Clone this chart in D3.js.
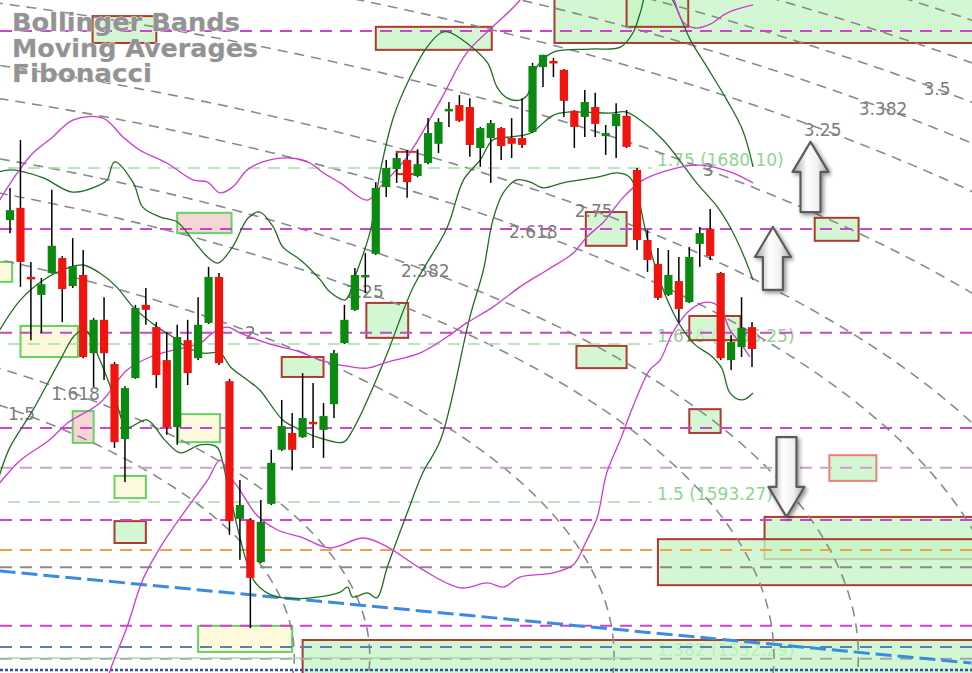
<!DOCTYPE html>
<html>
<head>
<meta charset="utf-8">
<script src="https://cdn.jsdelivr.net/npm/d3@7"></script>
<style>body{margin:0;background:#fff;}</style>
</head>
<body>
<script>
// ---- candles (bar index 0..71) ----
var opens  = [1666.6,1669.8,1651.8,1647.1,1652.8,1656.7,1649.4,1652.3,1631.9,1640.6,1629.1,1609.5,1625.4,1644.5,1638.7,1630.1,1612.6,1635.3,1630.6,1639.8,1651.8,1624.6,1588.7,1588.4,1577.4,1592.6,1606.7,1611.1,1610.0,1614.0,1611.9,1618.6,1634.5,1643.2,1651.8,1657.8,1675.2,1679.9,1682.3,1678.1,1681.5,1686.5,1695.1,1696.6,1696.1,1685.4,1688.0,1690.6,1688.0,1688.0,1689.6,1706.5,1708.1,1705.8,1695.1,1693.5,1696.1,1688.5,1691.1,1693.8,1679.7,1661.4,1655.2,1647.1,1650.7,1645.2,1660.4,1664.3,1652.8,1630.1,1633.5,1638.7];
var highs  = [1675.0,1687.5,1655.7,1651.5,1674.5,1657.2,1661.9,1658.8,1641.1,1646.5,1629.6,1623.3,1644.5,1648.9,1640.0,1637.4,1639.3,1640.6,1646.5,1654.4,1652.8,1625.2,1598.8,1588.9,1593.6,1606.7,1619.7,1616.3,1626.7,1624.1,1618.9,1632.7,1644.5,1654.1,1658.0,1676.5,1682.3,1684.1,1684.9,1685.1,1693.2,1693.2,1697.4,1699.2,1698.4,1690.9,1692.7,1690.9,1693.2,1698.4,1707.6,1709.7,1708.9,1706.0,1695.3,1700.5,1699.8,1691.4,1697.1,1695.3,1680.2,1664.0,1659.3,1658.8,1657.0,1659.6,1664.8,1669.5,1653.1,1636.6,1646.5,1640.0];
var lows   = [1663.2,1649.2,1635.3,1637.2,1652.6,1640.0,1648.9,1630.6,1623.1,1624.9,1607.2,1598.3,1625.2,1639.3,1622.8,1610.6,1608.0,1623.6,1630.1,1639.5,1628.8,1584.5,1578.0,1560.2,1577.2,1592.3,1606.4,1601.4,1609.8,1607.2,1604.6,1615.0,1634.3,1642.9,1647.6,1657.5,1672.6,1676.3,1672.4,1677.8,1681.2,1684.1,1690.9,1692.2,1683.1,1680.5,1676.3,1682.3,1682.8,1685.4,1689.3,1701.3,1703.9,1693.5,1685.4,1688.3,1688.3,1683.6,1682.8,1685.4,1658.8,1653.1,1645.8,1646.8,1639.8,1645.0,1654.4,1656.2,1630.1,1627.5,1630.9,1628.3];
var closes = [1669.2,1655.7,1651.2,1649.9,1659.9,1648.6,1654.6,1630.9,1640.6,1631.9,1608.7,1622.8,1643.7,1643.2,1626.2,1612.6,1636.1,1626.7,1639.3,1651.8,1629.3,1588.1,1592.3,1573.3,1587.9,1603.3,1612.9,1606.7,1615.0,1613.4,1615.5,1631.9,1640.6,1652.3,1652.3,1675.0,1680.2,1682.8,1676.5,1681.2,1689.3,1692.2,1695.6,1692.5,1686.2,1690.6,1691.9,1685.9,1686.5,1686.2,1706.8,1709.7,1707.6,1697.7,1690.9,1697.4,1691.7,1689.3,1694.3,1685.7,1661.4,1656.2,1646.3,1652.3,1643.4,1657.0,1663.2,1657.2,1630.6,1634.8,1638.5,1633.0];

// ---- Bollinger bands [bar, price] ----
var upperBand = [[-1,1679.2],[0,1679.7],[1,1679.4],[3.2,1677.6],[6,1673.9],[8.6,1675.8],[9.3,1677.1],[10,1681.8],[11.8,1676.3],[12.7,1670.0],[14.4,1667.4],[16,1666.1],[17.5,1661.4],[18.9,1657.0],[19.9,1655.4],[21.3,1659.6],[22.8,1667.2],[23.9,1668.7],[25.2,1664.8],[26.1,1659.6],[27.8,1656.2],[29.7,1651.0],[30.6,1647.9],[32.1,1645.8],[33,1651.8],[34.5,1664.0],[35.4,1678.9],[36.7,1693.5],[38.3,1703.9],[39.9,1711.7],[41.2,1715.4],[41.9,1715.7],[43.7,1712.8],[45.7,1707.6],[46.6,1701.3],[47.6,1698.4],[48.8,1697.9],[49.5,1699.2],[50.4,1706.5],[52,1710.4],[55.5,1711.2],[58.4,1711.7],[59.6,1715.4],[60.3,1720.6],[61.2,1727.9],[62.4,1727.9],[63.4,1724.0],[65.1,1713.6],[66.7,1706.5],[68.6,1697.9],[70.1,1690.1],[71.1,1680.5]];
var middleBand = [[-1,1637.9],[1,1645.8],[3.2,1651.0],[5.5,1654.1],[7,1654.9],[8.6,1652.8],[10.2,1649.2],[11.8,1643.9],[14.1,1638.7],[15.6,1636.1],[16.9,1633.5],[18.5,1631.9],[20.1,1631.9],[21.1,1628.3],[22.7,1624.9],[23.9,1622.3],[26.1,1614.5],[27.8,1611.9],[29.4,1610.0],[31.9,1608.7],[32.8,1611.9],[34.2,1619.7],[36.1,1631.9],[38.6,1649.2],[41.8,1664.5],[43.4,1677.1],[45,1682.3],[46.2,1687.5],[47.9,1688.3],[49.8,1689.3],[52,1694.0],[53.6,1694.8],[57.4,1694.5],[58.9,1694.8],[60.3,1692.7],[62.5,1687.5],[65.7,1676.3],[67.7,1670.0],[68.9,1664.8],[70.1,1658.0],[71.1,1651.0]];
var lowerBand = [[-1,1600.1],[0,1607.4],[2.2,1617.1],[4.8,1630.1],[6.2,1636.6],[7.2,1637.9],[8.6,1630.1],[10.1,1619.7],[11.2,1612.6],[13.1,1614.5],[14.8,1609.3],[16.3,1605.9],[18.2,1608.0],[19.8,1607.4],[20.3,1604.0],[20.8,1598.0],[23.3,1572.8],[24.6,1569.4],[26.1,1568.1],[29.4,1568.3],[31.6,1569.6],[32.3,1570.9],[32.8,1568.3],[34.2,1569.4],[35.1,1568.1],[36.1,1576.1],[38,1590.2],[39.5,1600.7],[41.2,1609.3],[44,1641.3],[45.3,1653.6],[46.2,1666.6],[47.2,1673.7],[48.5,1677.1],[49.8,1676.5],[51,1675.0],[52.9,1676.3],[56.2,1677.8],[58.1,1678.9],[59.3,1677.8],[60,1673.7],[60.8,1664.0],[61.7,1654.9],[62.7,1647.1],[64.1,1639.3],[65.6,1634.0],[67,1631.4],[68.1,1628.0],[68.9,1621.5],[70.1,1619.7],[71.1,1621.5]];

// ---- moving averages [bar, price] ----
var maFast = [[-1,1671.8],[0.7,1678.9],[2.2,1684.1],[4.1,1688.3],[6,1692.7],[8.9,1693.2],[10.8,1688.3],[12.4,1684.9],[15,1681.5],[17.5,1677.1],[18.9,1676.5],[20.1,1673.7],[21.3,1675.2],[22.7,1679.7],[24.2,1681.8],[26.8,1682.8],[28.7,1681.5],[30,1678.9],[31.6,1676.3],[34.2,1671.8],[35.4,1675.2],[38,1683.1],[41.2,1697.9],[43.7,1710.2],[46.2,1717.0],[48.8,1724.0],[51.2,1734.4],[56.5,1735.7],[61.2,1734.4],[63.2,1726.6],[64.4,1718.3],[65.6,1716.7],[67,1717.7],[68.6,1720.6],[71.1,1722.7]];
var maMid = [[-1,1598.0],[1,1604.0],[3.8,1609.3],[5.5,1613.7],[8.6,1618.9],[11.2,1627.5],[13.4,1630.9],[15.6,1632.7],[18.2,1634.5],[19.4,1637.2],[20.8,1638.7],[22,1637.2],[24.6,1634.5],[27.8,1632.2],[29.7,1630.1],[31.6,1628.8],[34.2,1628.0],[36.1,1629.6],[39.2,1631.9],[41.8,1636.1],[43.7,1639.8],[46.2,1643.9],[48.8,1649.2],[51.4,1653.6],[53.9,1658.0],[55.2,1662.2],[56.8,1666.1],[58.7,1672.6],[60.6,1677.1],[62.5,1679.2],[65.7,1681.0],[68.9,1679.2],[71.1,1676.3]];
var maSlow = [[9.1,1544.1],[9.6,1549.3],[11.2,1560.5],[12.7,1572.8],[14.4,1581.4],[16.6,1590.2],[18.9,1598.8],[20.1,1604.0],[21.1,1599.6],[22,1596.2],[23.6,1589.7],[25.6,1585.8],[27.8,1584.0],[30.6,1581.1],[33.8,1583.7],[36.1,1581.4],[39.2,1575.9],[43.1,1570.7],[45.7,1572.0],[47.2,1570.9],[48.8,1573.5],[52,1574.6],[53.9,1576.7],[55.2,1583.2],[56.2,1589.2],[57.1,1600.7],[58.4,1609.3],[59.6,1617.9],[61.2,1627.5],[62.2,1630.1],[63.4,1637.2],[65.1,1643.2],[66.7,1645.2],[67.9,1643.9],[68.9,1637.9],[69.9,1634.5],[70.8,1630.9]];

// ---- horizontal levels, trend line ----
var magentaLevels = [1715.9, 1664.3, 1637.2, 1612.4, 1588.4, 1560.8];
var otherLevels = [1602.0, 1580.6, 1576.1, 1555.3, 1552.2, 1549.3];
var otherColors = ["#c9a3c9", "#f0a14a", "#8a8a8a", "#5b7fb5", "#a2aaa2", "#2f4f9f"];
var trendLine = [[-1, 1575.1], [92, 1551.1]];

// ---- fibonacci ----
var fibValues = [1680.2, 1634.3, 1593.1, 1552.4];
var fibTexts = ["1.75 (1680.10)", "1.618 (1636.25)", "1.5 (1593.27)", "1.382 (1552.29)"];
var arcRatios = [1.5, 1.618, 2, 2.25, 2.382, 2.618, 2.75, 3, 3.25, 3.382, 3.5, 3.618, 3.75, 4];
var arcLabels = ["1.5", "1.618", "2", "2.25", "2.382", "2.618", "2.75", "3", "3.25", "3.382", "3.5"];
var arcCenter = [-64.6, 1552.9];
var arcUnit = [61.2, 60.5];

// ---- zones [bar0, bar1, top, bottom, kind] ----
var zones = [
  [7.9,14.0,1719.8,1712.8,"g"],[35.0,46.1,1717.0,1711.0,"g"],[52.1,93,1725.3,1712.8,"g"],[59.0,64.9,1725.3,1717.0,"g"],
  [16.0,21.2,1668.5,1663.2,"p"],[-1.5,0.2,1655.7,1650.5,"y"],[1.0,6.5,1639.0,1630.9,"y"],[6.0,8.0,1616.8,1608.5,"p"],
  [16.1,20.1,1616.0,1608.7,"y"],[10.0,13.0,1599.9,1594.1,"y"],[10.0,13.0,1588.1,1582.4,"g"],[18.0,27.0,1560.8,1554.0,"y"],
  [28.0,93,1557.1,1544.1,"g"],[26.0,30.0,1630.9,1625.7,"g"],[34.1,38.1,1645.0,1635.9,"g"],[54.2,59.0,1633.8,1628.0,"g"],
  [55.1,59.0,1668.7,1659.9,"g"],[65.0,69.9,1641.6,1635.3,"g"],[65.0,68.0,1617.3,1611.1,"g"],[77.0,81.2,1667.2,1661.2,"g"],
  [78.4,82.9,1605.3,1598.6,"s"],[72.2,93,1589.2,1578.2,"g"],[62.0,93,1583.4,1571.4,"g"],[37.0,39.0,1684.4,1678.6,"o"]
];
// ---- arrows [bar, tip price, tail price] ----
var arrows = [[76.6,1687.0,1668.7],[73.0,1664.8,1648.4],[74.3,1589.2,1610.0]];
var titleLines = ["Bollinger Bands", "Moving Averages", "Fibonacci"];

var W = 972, H = 673;
var svg = d3.select("body").append("svg")
    .attr("width", W).attr("height", H)
    .style("display", "block");

var x = d3.scaleLinear().domain([0, 71]).range([10, 752]);
var y = d3.scaleLinear().domain([1724, 1548.5]).range([0, 673]);

var defs = svg.append("defs");
var grad = defs.append("linearGradient").attr("id", "arrowFill");
grad.append("stop").attr("offset", "0%").attr("stop-color", "#9c9c9c");
grad.append("stop").attr("offset", "40%").attr("stop-color", "#ffffff");
grad.append("stop").attr("offset", "70%").attr("stop-color", "#f0f0f0");
grad.append("stop").attr("offset", "100%").attr("stop-color", "#a5a5a5");
defs.append("filter").attr("id", "shadow")
    .append("feDropShadow").attr("dx", 2).attr("dy", 2).attr("stdDeviation", 2).attr("flood-opacity", 0.45);

// fib retracement labels (under the zones)
svg.append("g").selectAll("text")
    .data(fibValues)
    .enter().append("text")
    .attr("x", x(61.9))
    .attr("y", function(d) { return y(d) - 2; })
    .attr("font-family", "DejaVu Sans, sans-serif")
    .attr("font-size", "17px")
    .attr("fill", "#8fd58f")
    .text(function(d, i) { return fibTexts[i]; });

// zones
var zoneFill = {g: "#c6f5c6", p: "#f6c9c9", y: "#fcf7d4", s: "#c6f5c6", o: "none"};
var zoneStroke = {g: "#b03a30", p: "#62d462", y: "#62d462", s: "#f07e78", o: "#c0392b"};
svg.append("g").selectAll("rect")
    .data(zones)
    .enter().append("rect")
    .attr("x", function(d) { return x(d[0]); })
    .attr("y", function(d) { return y(d[2]); })
    .attr("width", function(d) { return x(d[1]) - x(d[0]); })
    .attr("height", function(d) { return y(d[3]) - y(d[2]); })
    .attr("fill", function(d) { return zoneFill[d[4]]; })
    .attr("fill-opacity", 0.78)
    .attr("stroke", function(d) { return zoneStroke[d[4]]; })
    .attr("stroke-width", 2);

// fibonacci arcs
var arcLine = d3.line();
svg.append("g").selectAll("path")
    .data(arcRatios)
    .enter().append("path")
    .attr("d", function(k) {
        var pts = d3.range(-0.25, Math.PI / 2 + 0.001, 0.01).map(function(t) {
            return [x(arcCenter[0] + k * arcUnit[0] * Math.cos(t)), y(arcCenter[1] + k * arcUnit[1] * Math.sin(t))];
        });
        return arcLine(pts);
    })
    .attr("fill", "none")
    .attr("stroke", "#8a8a8a")
    .attr("stroke-width", 1.6)
    .attr("stroke-dasharray", "10,7");

// horizontal levels
svg.append("g").selectAll("line")
    .data(otherLevels)
    .enter().append("line")
    .attr("x1", 0).attr("x2", W)
    .attr("y1", function(d) { return y(d); })
    .attr("y2", function(d) { return y(d); })
    .attr("stroke", function(d, i) { return otherColors[i]; })
    .attr("stroke-width", function(d, i) { return i == 5 ? 2.5 : 2; })
    .attr("stroke-dasharray", function(d, i) { return i == 5 ? "3,2" : "12,8"; });

svg.append("g").selectAll("line")
    .data(magentaLevels)
    .enter().append("line")
    .attr("x1", 0).attr("x2", W)
    .attr("y1", function(d) { return y(d); })
    .attr("y2", function(d) { return y(d); })
    .attr("stroke", "#cc45cc")
    .attr("stroke-width", 2)
    .attr("stroke-dasharray", "12,8");

svg.append("g").selectAll("line")
    .data(fibValues)
    .enter().append("line")
    .attr("x1", x(-0.2)).attr("x2", x(61.4))
    .attr("y1", function(d) { return y(d); })
    .attr("y2", function(d) { return y(d); })
    .attr("stroke", "#a6dca6")
    .attr("stroke-width", 1.6)
    .attr("stroke-dasharray", "12,8");

// trend line
svg.append("path")
    .attr("d", d3.line().x(function(d) { return x(d[0]); }).y(function(d) { return y(d[1]); })(trendLine))
    .attr("stroke", "#3b8be0")
    .attr("stroke-width", 3)
    .attr("stroke-dasharray", "16,6")
    .attr("fill", "none");

// arc labels
var labAng = 44.3 * Math.PI / 180;
svg.append("g").selectAll("text")
    .data(arcLabels)
    .enter().append("text")
    .attr("x", function(d) { return x(arcCenter[0] + (+d) * arcUnit[0] * Math.cos(labAng)); })
    .attr("y", function(d) { return y(arcCenter[1] + (+d) * arcUnit[1] * Math.sin(labAng)); })
    .attr("dy", "0.38em")
    .attr("text-anchor", "middle")
    .attr("font-family", "DejaVu Sans, sans-serif")
    .attr("font-size", "17px")
    .attr("fill", "#7c7c7c")
    .text(function(d) { return d; });

// indicator lines
var curve = d3.line()
    .x(function(d) { return x(d[0]); })
    .y(function(d) { return y(d[1]); })
    .curve(d3.curveCatmullRom.alpha(0.5));

[upperBand, middleBand, lowerBand].forEach(function(s) {
    svg.append("path").attr("d", curve(s))
        .attr("fill", "none").attr("stroke", "#1f6e22").attr("stroke-width", 1.3);
});
[maFast, maMid, maSlow].forEach(function(s) {
    svg.append("path").attr("d", curve(s))
        .attr("fill", "none").attr("stroke", "#d13ad1").attr("stroke-width", 1.3);
});

// candles
var bars = d3.range(opens.length);
var cg = svg.append("g");
cg.selectAll("line")
    .data(bars)
    .enter().append("line")
    .attr("x1", function(i) { return x(i); })
    .attr("x2", function(i) { return x(i); })
    .attr("y1", function(i) { return y(highs[i]); })
    .attr("y2", function(i) { return y(lows[i]); })
    .attr("stroke", "#000")
    .attr("stroke-width", 1.5);
cg.selectAll("rect")
    .data(bars)
    .enter().append("rect")
    .attr("x", function(i) { return x(i) - 4.1; })
    .attr("y", function(i) { return y(Math.max(opens[i], closes[i])); })
    .attr("width", 8.2)
    .attr("height", function(i) { return Math.max(2.5, Math.abs(y(opens[i]) - y(closes[i]))); })
    .attr("fill", function(i) { return closes[i] >= opens[i] ? "#0b8a12" : "#f0140f"; });

// arrows
svg.append("g").selectAll("path")
    .data(arrows)
    .enter().append("path")
    .attr("d", function(d) {
        var cx = x(d[0]), yt = y(d[1]), yb = y(d[2]);
        var dir = yb > yt ? 1 : -1;
        var hw = 18, sw = 10, hl = 30 * dir;
        return "M" + cx + "," + yt +
            "L" + (cx + hw) + "," + (yt + hl) +
            "L" + (cx + sw) + "," + (yt + hl) +
            "L" + (cx + sw) + "," + yb +
            "L" + (cx - sw) + "," + yb +
            "L" + (cx - sw) + "," + (yt + hl) +
            "L" + (cx - hw) + "," + (yt + hl) + "Z";
    })
    .attr("fill", "url(#arrowFill)")
    .attr("stroke", "#5c5c5c")
    .attr("stroke-width", 2.2)
    .attr("stroke-linejoin", "round")
    .attr("filter", "url(#shadow)");

// title
var titleWidths = [228, 246, 140];
svg.append("g").selectAll("text")
    .data(titleLines)
    .enter().append("text")
    .attr("x", 12)
    .attr("y", function(d, i) { return 31 + i * 25.5; })
    .attr("font-family", "DejaVu Sans, sans-serif")
    .attr("font-weight", "bold")
    .attr("font-size", "24px")
    .attr("textLength", function(d, i) { return titleWidths[i]; })
    .attr("lengthAdjust", "spacingAndGlyphs")
    .attr("fill", "#939393")
    .attr("stroke", "#ececec")
    .attr("stroke-width", 0.8)
    .attr("paint-order", "stroke")
    .text(function(d) { return d; });
</script>
</body>
</html>
